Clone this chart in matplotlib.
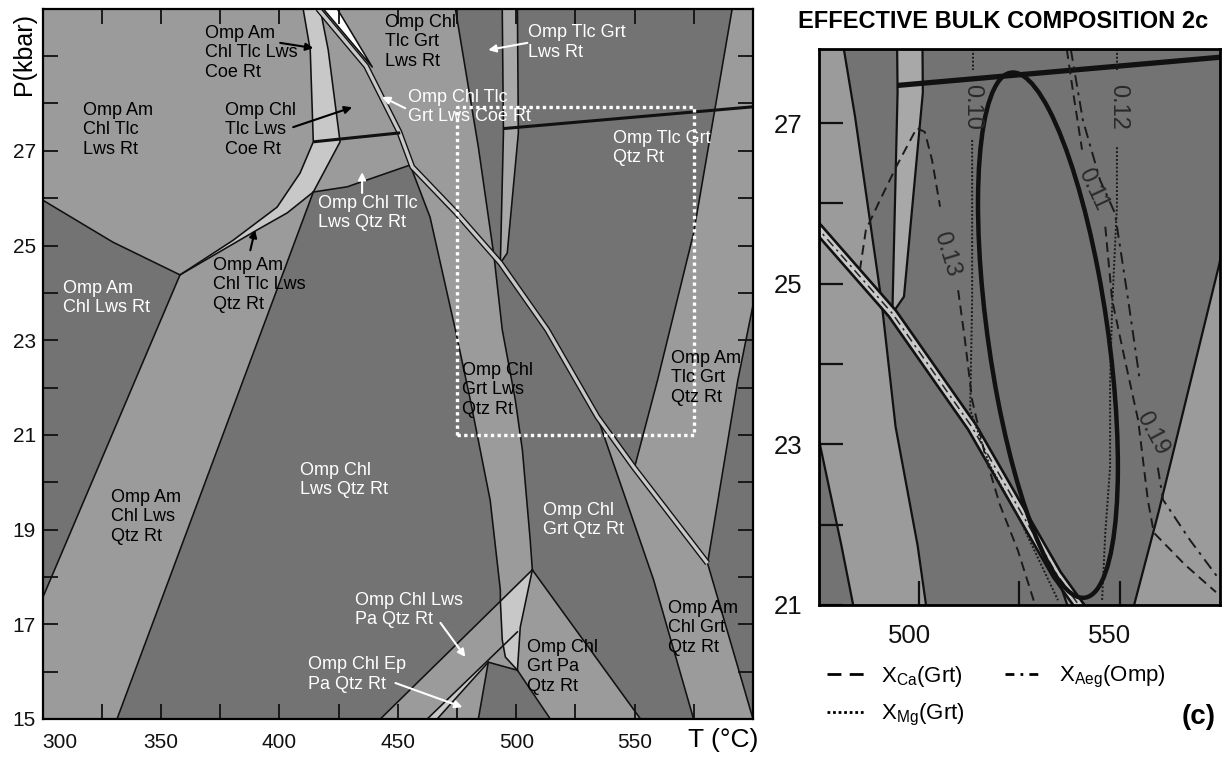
"""
Pseudoseksjon (P-T) med utsnitt: effektiv bulksammensetning 2c.
"""

import numpy as np
import matplotlib
matplotlib.use("Agg")
import matplotlib.pyplot as plt
from matplotlib.patches import Polygon, Ellipse
from matplotlib.lines import Line2D
from matplotlib.transforms import ScaledTranslation

plt.rcParams["font.family"] = ["Liberation Sans", "DejaVu Sans"]
plt.rcParams["mathtext.default"] = "regular"

DARK = "#737373"
MED = "#9b9b9b"
LIGHT = "#c8c8c8"
STRIP = "#a8a8a8"

# ---------------------------------------------------------------- felt (T °C, P kbar)
J1 = (506.8, 18.15)

TOPLEFT = [(300, 30), (410.0, 30), (413.0, 29.13), (414.3, 27.19), (408.7, 26.53),
           (399.0, 25.81), (380.4, 25.11), (358.0, 24.38), (329.7, 25.07), (300, 25.96)]
L1_LEFT = [(410.0, 30), (413.0, 29.13), (414.3, 27.19), (408.7, 26.53), (399.0, 25.81),
           (380.4, 25.11), (358.0, 24.38)]
L1_RIGHT = [(417.2, 30), (420.6, 29.13), (425.6, 27.19), (414.3, 26.13), (403.3, 25.69),
            (390.6, 25.33), (358.0, 24.38)]
AM_BAND = [(358.0, 24.38), (390.6, 25.33), (403.3, 25.69), (414.3, 26.13), (331.4, 15),
           (300, 15), (300, 17.56)]
CHL_BAND = [(417.2, 30), (420.6, 29.13), (425.6, 27.19), (414.3, 26.13), (428.6, 26.24),
            (455.2, 26.70), (463.6, 25.60), (474.3, 23.22), (480.6, 21.74), (489.0, 19.62),
            (493.3, 17.72), (493.3, 17.49), J1, (505.9, 18.78), (502.6, 20.68),
            (499.6, 21.74), (494.1, 23.22), (490.6, 24.78), (484.0, 27.08), (474.3, 30)]
V1 = [(494.1, 30), (500.5, 30), (500.9, 27.38), (496.2, 24.84), (493.3, 24.63), (494.6, 27.38)]
WEDGE = [(591.2, 30), (600, 30), (600, 23.74), (593.6, 22.16), (580.8, 18.29),
         (549.9, 20.30), (559.7, 22.16), (574.9, 25.26)]
AM_GRT = [(534.3, 21.38), (558.0, 17.94), (574.9, 15), (600, 15), (580.8, 18.29)]
PA_GRT = [J1, (552.5, 15), (514.4, 15), (500.5, 16.03), (501.7, 16.94)]
LL = [J1, (501.7, 16.94), (500.5, 16.03), (495.4, 16.31), (494.1, 16.67), (493.3, 17.49)]
B1 = [(493.3, 17.49), (442.6, 15), (462.4, 15), (494.5, 16.56)]
B2 = [(462.4, 15), (494.5, 16.56), (495.4, 16.31), (500.5, 16.03), (488.2, 16.20), (484.0, 15)]
SLIVER = [(462.4, 15), (466.6, 15), (488.2, 16.20), (487.8, 16.24)]
WHITE_TOP = [(418.5, 30), (424.4, 30), (439.2, 28.77)]

FIELDS = [(TOPLEFT, MED), (AM_BAND, MED), (CHL_BAND, MED), (L1_LEFT + L1_RIGHT[::-1], LIGHT),
          (V1, STRIP), (WEDGE, MED), (AM_GRT, MED), (PA_GRT, MED), (B1, MED), (B2, MED),
          (LL, LIGHT), (SLIVER, LIGHT), (WHITE_TOP, "white")]

# ---------------------------------------------------------------- grenser
LINE_A = [(300, 25.96), (329.7, 25.07), (358.0, 24.38)]
LINE_B = [(358.0, 24.38), (300, 17.56)]
LINE_C = [(414.3, 26.13), (331.4, 15)]
LINE_D = [(414.3, 26.13), (428.6, 26.24), (455.2, 26.70)]
LINE_E = [(455.2, 26.70), (463.6, 25.60), (474.3, 23.22), (480.6, 21.74), (489.0, 19.62),
          (493.3, 17.72), (493.3, 17.49), (494.1, 16.67), (495.4, 16.31), (500.5, 16.03)]
LINE_F = [(474.3, 30), (484.0, 27.08), (490.6, 24.78)]
LINE_G = [(490.6, 24.78), (494.1, 23.22), (499.6, 21.74), (502.6, 20.68), (505.9, 18.78), J1]
V1_LEFT = [(494.1, 30), (494.6, 27.38), (493.3, 24.63)]
V1_RIGHT = [(500.5, 30), (500.9, 27.38), (496.2, 24.84), (493.3, 24.63)]
WEDGE_LEFT = [(591.2, 30), (574.9, 25.26), (559.7, 22.16), (549.9, 20.30)]
WEDGE_RIGHT = [(600, 23.74), (593.6, 22.16), (580.8, 18.29), (600, 15)]
LINE_H = [(534.3, 21.38), (558.0, 17.94), (574.9, 15)]
J1_SE = [J1, (552.5, 15)]
J1_SW = [J1, (442.6, 15)]
LL_RIGHT = [J1, (501.7, 16.94), (500.5, 16.03)]
D3_RIGHT = [(500.5, 16.03), (514.4, 15)]
D3_LEFT = [(500.5, 16.03), (488.2, 16.20), (484.0, 15)]
B1_LOW = [(462.4, 15), (500.5, 16.84)]
SLIVER_R = [(466.6, 15), (488.2, 16.20)]
WHITE_EDGE = [(418.5, 30), (439.2, 28.77), (424.4, 30)]

BOUNDARIES = [LINE_A, LINE_B, L1_LEFT, L1_RIGHT, LINE_C, LINE_D, LINE_E, LINE_F, LINE_G,
              V1_LEFT, V1_RIGHT, WEDGE_LEFT, WEDGE_RIGHT, LINE_H, J1_SE, J1_SW, LL_RIGHT,
              D3_RIGHT, D3_LEFT, B1_LOW, SLIVER_R, WHITE_EDGE]

DIAG = [(416.3, 30), (436.6, 28.79), (450.6, 27.40), (456.1, 26.66), (474.7, 25.69),
        (493.3, 24.63), (513.1, 23.22), (534.3, 21.38), (549.9, 20.30), (580.8, 18.29)]
THICK_1 = [(414.3, 27.19), (451.0, 27.38)]
THICK_2 = [(494.6, 27.47), (600, 27.93)]

# ---------------------------------------------------------------- feltnavn
LABELS = [
    (368.7, 29.66, "Omp Am\nChl Tlc Lws\nCoe Rt", "black"),
    (317.0, 28.04, "Omp Am\nChl Tlc\nLws Rt", "black"),
    (377.1, 28.04, "Omp Chl\nTlc Lws\nCoe Rt", "black"),
    (416.3, 26.07, "Omp Chl Tlc\nLws Qtz Rt", "white"),
    (308.6, 24.28, "Omp Am\nChl Lws Rt", "white"),
    (372.0, 24.76, "Omp Am\nChl Tlc Lws\nQtz Rt", "black"),
    (444.7, 29.90, "Omp Chl\nTlc Grt\nLws Rt", "black"),
    (505.1, 29.68, "Omp Tlc Grt\nLws Rt", "white"),
    (454.4, 28.31, "Omp Chl Tlc\nGrt Lws Coe Rt", "white"),
    (541.0, 27.45, "Omp Tlc Grt\nQtz Rt", "white"),
    (565.2, 22.80, "Omp Am\nTlc Grt\nQtz Rt", "black"),
    (477.2, 22.55, "Omp Chl\nGrt Lws\nQtz Rt", "black"),
    (328.9, 19.86, "Omp Am\nChl Lws\nQtz Rt", "black"),
    (408.8, 20.43, "Omp Chl\nLws Qtz Rt", "white"),
    (511.5, 19.59, "Omp Chl\nGrt Qtz Rt", "white"),
    (432.0, 17.69, "Omp Chl Lws\nPa Qtz Rt", "white"),
    (412.1, 16.32, "Omp Chl Ep\nPa Qtz Rt", "white"),
    (504.7, 16.70, "Omp Chl\nGrt Pa\nQtz Rt", "black"),
    (564.3, 17.52, "Omp Am\nChl Grt\nQtz Rt", "black"),
]
ARROWS = [  # (hale T, hale P, spiss T, spiss P, farge)
    (400.3, 29.28, 414.3, 29.17, "black"),
    (405.8, 27.50, 430.7, 27.92, "black"),
    (434.9, 26.11, 434.9, 26.55, "white"),
    (387.7, 24.90, 389.7, 25.33, "black"),
    (504.7, 29.28, 488.2, 29.13, "white"),
    (453.1, 27.90, 443.4, 28.14, "white"),
    (468.0, 17.03, 478.5, 16.31, "white"),
    (449.0, 15.76, 477.3, 15.25, "white"),
]
RECT_T = [475, 575]
RECT_P = [21, 27.92]

# ---------------------------------------------------------------- isopleter (utsnitt)
XMG_010 = [[(513.4, 27.92), (513.4, 27.66)],
           [(513.2, 26.79), (513.2, 24.80), (512.7, 23.43), (517.6, 22.74), (525.1, 22.06),
            (534.6, 21.06)]]
XMG_012 = [[(549.3, 27.92), (549.3, 27.66)],
           [(549.3, 26.70), (549.3, 25.96), (548.1, 24.71), (547.6, 23.76), (547.6, 22.72),
            (546.4, 21.90), (545.6, 21.06)]]
XCA_013 = [[(485.2, 25.17), (486.7, 25.67), (490.2, 26.04), (494.5, 26.48), (499.4, 26.94),
            (501.4, 26.89), (503.2, 26.54), (505.2, 25.96)],
           [(509.7, 24.92), (511.4, 24.30), (513.2, 23.55), (516.4, 22.87), (520.1, 22.25),
            (524.6, 21.68), (528.9, 21.0)]]
XCA_011 = [[(536.8, 27.92), (538.3, 27.41), (540.6, 26.67)],
           [(546.4, 25.71), (548.1, 24.80), (551.3, 24.05), (554.6, 23.30), (557.0, 22.31),
            (558.5, 21.90), (566.3, 21.50), (574.0, 21.16)]]
XAEG_019 = [[(537.8, 27.92), (540.8, 27.04), (545.1, 26.29), (548.8, 25.88), (552.1, 24.80),
             (555.0, 23.80)],
            [(559.5, 22.71), (560.8, 22.31), (567.5, 21.81), (574.5, 21.34)]]
ISO_LABELS = [  # (T, P, tekst, rotasjon)
    (513.2, 27.20, "0.10", -90),
    (549.6, 27.20, "0.12", -90),
    (506.7, 25.37, "0.13", -73),
    (543.3, 26.17, "0.11", -65),
    (558.0, 23.14, "0.19", -62),
]
# ellipse i dataenheter (senter, bredde, hoyde, vinkel)
ELL_CENTRE = (532.1, 24.36)
ELL_WIDTH = 35.04
ELL_HEIGHT = 5.64
ELL_ANGLE = -5.5

DASHED = (0, (5, 3))
DOTTED = (0, (1, 1))
DASHDOT = (0, (6, 3, 1.5, 3))
DASHDOT_LEG = (0, (3.2, 2.2, 1, 2.2))


def xy(pts):
    t, p = zip(*pts)
    return list(t), list(p)


def tegn_pseudoseksjon(ax, lw, strip_w, thick_w):
    ax.set_facecolor(DARK)
    for pts, c in FIELDS:
        ax.add_patch(Polygon(pts, closed=True, fc=c, ec="none", zorder=1))
    for pts in BOUNDARIES:
        t, p = xy(pts)
        ax.plot(t, p, color="#111111", lw=lw, zorder=2, solid_joinstyle="round")
    t, p = xy(DIAG)
    ax.plot(t, p, color="#111111", lw=strip_w, zorder=3, solid_capstyle="butt")
    ax.plot(t, p, color=LIGHT, lw=strip_w * 0.55, zorder=3, solid_capstyle="butt")
    for pts in (THICK_1, THICK_2):
        t, p = xy(pts)
        ax.plot(t, p, color="#111111", lw=thick_w, zorder=4, solid_capstyle="butt")


fig = plt.figure(figsize=(12.26, 7.57), dpi=100)

# ---------------------------------------------------------------- venstre panel
ax1 = fig.add_axes([0.0348, 0.0502, 0.5794, 0.9382])
tegn_pseudoseksjon(ax1, lw=1.15, strip_w=4.3, thick_w=2.2)
ax1.set_xlim(300, 600)
ax1.set_ylim(15, 30)

for t, p, txt, c in LABELS:
    ax1.text(t, p, txt, color=c, fontsize=13, ha="left", va="top",
             linespacing=1.2, zorder=7)
for t0, p0, t1, p1, c in ARROWS:
    ax1.annotate("", xy=(t1, p1), xytext=(t0, p0), zorder=7,
                 arrowprops=dict(arrowstyle="-|>", color=c, lw=1.5, mutation_scale=11,
                                 shrinkA=0, shrinkB=0))

rt = [RECT_T[0], RECT_T[1], RECT_T[1], RECT_T[0], RECT_T[0]]
rp = [RECT_P[0], RECT_P[0], RECT_P[1], RECT_P[1], RECT_P[0]]
ax1.plot(rt, rp, color="white", lw=2.4, ls=(0, (1, 1)), zorder=6)

xt = np.arange(300, 601, 25)
ax1.set_xticks(xt)
ax1.set_xticklabels([str(v) if v % 50 == 0 and v < 600 else "" for v in xt])
ax1.get_xticklabels()[0].set_ha("left")
yt = np.arange(15, 31, 1)
ax1.set_yticks(yt)
ax1.set_yticklabels([str(v) if v % 2 == 1 and v < 29 else "" for v in yt])
ax1.tick_params(direction="in", length=11, width=1.3, top=True, right=True,
                labelsize=15, colors="#111111")
ax1.tick_params(axis="x", pad=10)
ax1.tick_params(axis="y", pad=5)
for s in ax1.spines.values():
    s.set_linewidth(1.6)
    s.set_zorder(8)

fig.text(0.5897, 0.0225, "T (°C)", fontsize=19, ha="center", va="center")
fig.text(0.0196, 0.929, "P(kbar)", fontsize=18, rotation=90, ha="center", va="center")

# ---------------------------------------------------------------- høyre panel (utsnitt)
ax2 = fig.add_axes([0.668, 0.2008, 0.3271, 0.7341])
tegn_pseudoseksjon(ax2, lw=1.6, strip_w=8.5, thick_w=3.8)
ax2.set_xlim(475, 575)
ax2.set_ylim(21, 27.92)

t, p = xy(DIAG)
ax2.plot(t, p, color="#222222", lw=1.1, ls=DASHDOT, zorder=5)

for segs, ls in ((XMG_010, DOTTED), (XMG_012, DOTTED), (XCA_013, DASHED),
                 (XCA_011, DASHED), (XAEG_019, DASHDOT)):
    for seg in segs:
        t, p = xy(seg)
        ax2.plot(t, p, color="#1a1a1a", lw=1.4, ls=ls, zorder=5)
for t, p, txt, rot in ISO_LABELS:
    ax2.text(t, p, txt, fontsize=17, color="#2a2a2a", rotation=rot,
             ha="center", va="center", rotation_mode="anchor", zorder=7)

ax2.add_patch(Ellipse(ELL_CENTRE, ELL_WIDTH, ELL_HEIGHT, angle=ELL_ANGLE,
                      fill=False, ec="#111111", lw=3.2, zorder=6))

ax2.set_xticks([500, 525, 550])
ax2.set_xticklabels(["500", "", "550"])
ax2.set_yticks(np.arange(21, 28, 1))
ax2.set_yticklabels([str(v) if v % 2 == 1 else "" for v in range(21, 28)])
ax2.tick_params(direction="in", length=17, width=1.6, labelsize=18.5, colors="#111111")
ax2.tick_params(axis="x", pad=14)
ax2.tick_params(axis="y", pad=12)
shift = ScaledTranslation(-10 / 100, 0, fig.dpi_scale_trans)
for lab in ax2.get_xticklabels():
    lab.set_transform(lab.get_transform() + shift)
for s in ax2.spines.values():
    s.set_linewidth(2.0)
    s.set_zorder(8)

fig.text(0.818, 0.971, "EFFECTIVE BULK COMPOSITION 2c", fontsize=17,
         fontweight="bold", ha="center", va="center")

handles = [Line2D([], [], color="k", lw=2, ls=DASHED),
           Line2D([], [], color="k", lw=2, ls=DOTTED),
           Line2D([], [], color="k", lw=2, ls=DASHDOT_LEG)]
names = ["X$_{\\mathregular{Ca}}$(Grt)", "X$_{\\mathregular{Mg}}$(Grt)",
         "X$_{\\mathregular{Aeg}}$(Omp)"]
fig.legend(handles, names, ncol=2, loc="upper left", bbox_to_anchor=(0.6745, 0.123),
           frameon=False, fontsize=16, handlelength=1.7, handletextpad=0.73,
           columnspacing=1.8, labelspacing=0.6, borderaxespad=0, borderpad=0)
fig.text(0.978, 0.053, "(c)", fontsize=20, fontweight="bold", ha="center", va="center")

fig.savefig("out.png", dpi=100)
